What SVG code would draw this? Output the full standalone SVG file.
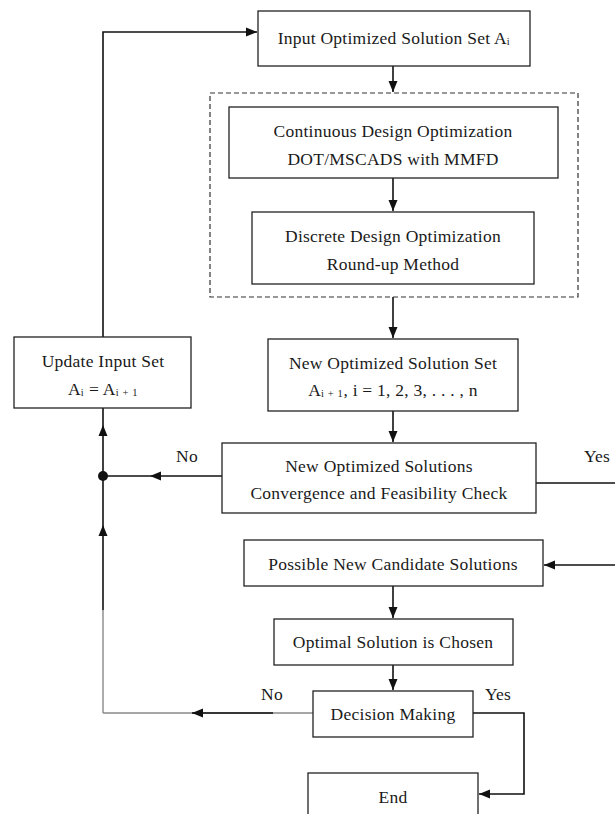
<svg xmlns="http://www.w3.org/2000/svg" width="615" height="814" viewBox="0 0 615 814">
<style>
.box{fill:#fff;stroke:#222;stroke-width:1.3}
.dash{fill:none;stroke:#333;stroke-width:1.2;stroke-dasharray:5,3}
.t{font-family:"Liberation Serif","DejaVu Serif",serif;font-size:17.5px;letter-spacing:0.25px;fill:#1a1a1a;text-anchor:middle}
.sub{font-size:10.5px;letter-spacing:0.6px}
.ln{fill:none;stroke:#111;stroke-width:1.6}
.gl{fill:none;stroke:#888;stroke-width:1.4}
</style>
<defs>
<marker id="ah" markerUnits="userSpaceOnUse" markerWidth="12" markerHeight="12" viewBox="0 0 12 12" refX="11" refY="6" orient="auto">
<path d="M0,1.5 L11,6 L0,10.5 Z" fill="#111"/>
</marker>
</defs>
<rect id="bg" x="0" y="0" width="615" height="814" fill="#fff"/>
<g id="connectors">
<path class="ln" d="M393,66 V92" marker-end="url(#ah)"/>
<path class="ln" d="M393,178 V211" marker-end="url(#ah)"/>
<path class="ln" d="M393,297 V338" marker-end="url(#ah)"/>
<path class="ln" d="M393,411 V442" marker-end="url(#ah)"/>
<path class="ln" d="M222,476 H150" marker-end="url(#ah)"/>
<path class="ln" d="M150,476 H103"/>
<path class="gl" d="M103,713 V610"/>
<path class="ln" d="M103,610 V525" stroke-width="2" marker-end="url(#ah)"/>
<path class="ln" d="M103,525 V476"/>
<path class="ln" d="M103,476 V425" marker-end="url(#ah)"/>
<path class="ln" d="M103,425 V408"/>
<circle cx="103" cy="476" r="5" fill="#111"/>
<path class="ln" d="M103,337 V32 H257" marker-end="url(#ah)"/>
<path class="ln" d="M536,483 H615"/>
<path class="ln" d="M615,565 H544" marker-end="url(#ah)"/>
<path class="ln" d="M393,586 V618" marker-end="url(#ah)"/>
<path class="ln" d="M393,665 V690" marker-end="url(#ah)"/>
<path class="gl" d="M313,713 H103"/>
<path class="ln" d="M273,713 H192" stroke-width="2" marker-end="url(#ah)"/>
<path class="ln" d="M473,713 H524 V794 H479" marker-end="url(#ah)"/>
<text class="t" x="187" y="462">No</text>
<text class="t" x="597" y="462">Yes</text>
<text class="t" x="272" y="700">No</text>
<text class="t" x="498" y="700">Yes</text>
</g>
<g id="input">
<rect class="box" x="258" y="11" width="272" height="55"/>
<text class="t" x="394" y="44">Input Optimized Solution Set A<tspan class="sub" dy="1">i</tspan></text>
</g>
<g id="optim-group">
<rect class="dash" x="210" y="93" width="368" height="204"/>
</g>
<g id="continuous">
<rect class="box" x="229" y="107" width="329" height="71"/>
<text class="t" x="393" y="137">Continuous Design Optimization</text>
<text class="t" x="393" y="165">DOT/MSCADS with MMFD</text>
</g>
<g id="discrete">
<rect class="box" x="252" y="212" width="282" height="72"/>
<text class="t" x="393" y="242">Discrete Design Optimization</text>
<text class="t" x="393" y="270">Round-up Method</text>
</g>
<g id="update">
<rect class="box" x="14" y="337" width="177" height="71"/>
<text class="t" x="103" y="367">Update Input Set</text>
<text class="t" x="103" y="395">A<tspan class="sub" dy="1">i</tspan><tspan dy="-1"> = A</tspan><tspan class="sub" dy="1">i + 1</tspan></text>
</g>
<g id="newset">
<rect class="box" x="268" y="339" width="250" height="72"/>
<text class="t" x="393" y="369">New Optimized Solution Set</text>
<text class="t" x="393" y="396">A<tspan class="sub" dy="1">i + 1</tspan><tspan dy="-1">, i = 1, 2, 3, . . . , n</tspan></text>
</g>
<g id="check">
<rect class="box" x="222" y="443" width="314" height="70"/>
<text class="t" x="379" y="472">New Optimized Solutions</text>
<text class="t" x="379" y="499">Convergence and Feasibility Check</text>
</g>
<g id="possible">
<rect class="box" x="244" y="540" width="299" height="46"/>
<text class="t" x="393" y="570">Possible New Candidate Solutions</text>
</g>
<g id="optimal">
<rect class="box" x="274" y="619" width="239" height="46"/>
<text class="t" x="393" y="648">Optimal Solution is Chosen</text>
</g>
<g id="decision">
<rect class="box" x="313" y="691" width="160" height="46"/>
<text class="t" x="393" y="720">Decision Making</text>
</g>
<g id="end">
<rect class="box" x="308" y="773" width="170" height="60"/>
<text class="t" x="393" y="803">End</text>
</g>
</svg>
